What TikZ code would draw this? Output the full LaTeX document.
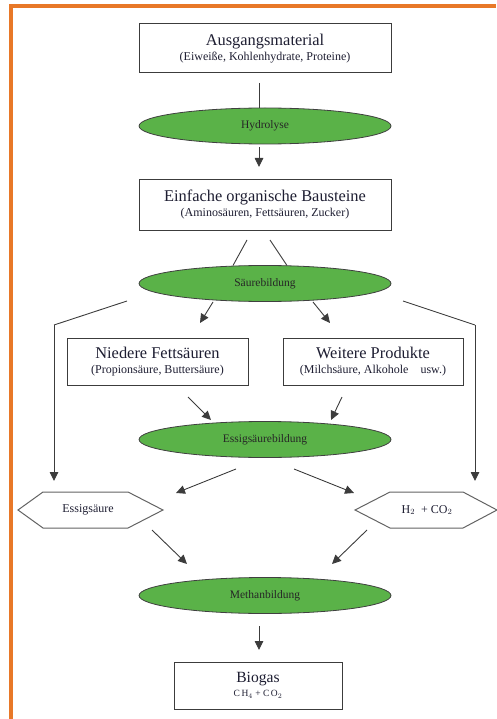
\documentclass[tikz,border=0pt]{standalone}
\usepackage{fontspec}
\setmainfont{Liberation Serif}
\usetikzlibrary{shapes.geometric,arrows.meta}
\definecolor{frameorange}{RGB}{232,120,40}
\definecolor{leafgreen}{RGB}{90,178,72}
\definecolor{ink}{RGB}{30,30,50}
\definecolor{linegray}{RGB}{60,60,60}
\newcommand\ftitle{\fontsize{16.4}{17}\selectfont}
\newcommand\fsubt{\fontsize{12}{13}\selectfont}
\newcommand\fell{\fontsize{11.5}{13}\selectfont}
\tikzset{
  x=1pt, y=-1pt,
  boxnode/.style={draw=linegray, line width=1pt, fill=white, inner sep=0pt, text=ink, align=center},
  procnode/.style={ellipse, draw=black!75, line width=0.8pt, fill=leafgreen, minimum width=252pt, minimum height=36pt, inner sep=0pt, font=\fell, text=black!85},
  hexlabel/.style={inner sep=0pt, font=\fsubt, text=ink},
  hexshape/.style={draw=linegray!80, line width=1pt},
  conn/.style={draw=linegray, line width=0.9pt},
  arr/.style={conn, -{Triangle[length=9pt,width=8.5pt]}}
}
\begin{document}
\begin{tikzpicture}
\useasboundingbox (0,0) rectangle (496,719);
% frame
\fill[frameorange] (9,4) rectangle (496,8);
\fill[frameorange] (9,4) rectangle (13,719);

% nodes
\node[boxnode, minimum width=252pt, minimum height=49pt] (src) at (265,48.5)
  {{\ftitle Ausgangsmaterial}\\[3pt]{\fsubt (Eiweiße, Kohlenhydrate, Proteine)}};
\node[procnode] (hyd) at (265,126) {Hydrolyse};
\node[boxnode, minimum width=252pt, minimum height=50pt] (bau) at (265,205)
  {{\ftitle Einfache organische Bausteine}\\[3pt]{\fsubt (Aminosäuren, Fettsäuren, Zucker)}};
\node[procnode] (sae) at (265,283.5) {Säurebildung};
\node[boxnode, minimum width=181pt, minimum height=47pt] (nfs) at (157.5,361.5)
  {{\ftitle Niedere Fettsäuren}\\[3pt]{\fsubt (Propionsäure, Buttersäure)}};
\node[boxnode, minimum width=180pt, minimum height=47pt] (wp) at (373,361.5)
  {{\ftitle Weitere Produkte}\\[3pt]{\fsubt (Milchsäure, Alkohole\quad usw.)}};
\node[procnode] (ess) at (265,439.5) {Essigsäurebildung};
\node[hexlabel] (es) at (88,510) {Essigsäure};
\node[hexlabel] (hc) at (427,510) {H$_2$\enspace + CO$_2$};
\node[procnode] (meth) at (265,595.5) {Methanbildung};
\node[boxnode, minimum width=168pt, minimum height=47pt] (bio) at (258,685.5)
  {{\fontsize{15.6}{17}\selectfont Biogas}\\[2pt]{\fontsize{9.5}{11}\selectfont C\,H$_4$ + C\,O$_2$}};

% hexagon outlines
\draw[hexshape] (18,510) -- (43,492) -- (128,492) -- (163,510) -- (128,528) -- (43,528) -- cycle;
\draw[hexshape] (355,510) -- (390,492) -- (463,492) -- (497,510) -- (463,528) -- (390,528) -- cycle;

% connector end points
\coordinate (a1) at (259,83);
\coordinate (a2s) at (259,147);
\coordinate (a2e) at (259,167);
\coordinate (b1s) at (247,240); \coordinate (b1e) at (233,265.5);
\coordinate (b2s) at (270,240); \coordinate (b2e) at (287,265.5);
\coordinate (c1s) at (213,302); \coordinate (c1e) at (200,323);
\coordinate (c2s) at (313,302); \coordinate (c2e) at (330,323);
\coordinate (l1) at (127,301); \coordinate (l2) at (54,325); \coordinate (l3) at (54,481);
\coordinate (r1) at (403,301); \coordinate (r2) at (475,325); \coordinate (r3) at (475,481);
\coordinate (d1s) at (188,397); \coordinate (d1e) at (211,420);
\coordinate (d2s) at (342,397); \coordinate (d2e) at (331,420);
\coordinate (e1s) at (236,469); \coordinate (e1e) at (176,493);
\coordinate (e2s) at (294,469); \coordinate (e2e) at (354,493);
\coordinate (f1s) at (152,530); \coordinate (f1e) at (187,564);
\coordinate (f2s) at (367,530); \coordinate (f2e) at (332,564);
\coordinate (g1s) at (259,626); \coordinate (g1e) at (259,650);

% connectors
\draw[conn] (a1) -- (a1 |- hyd.north);
\draw[arr] (a2s) -- (a2e);
\draw[conn] (b1s) -- (b1e);
\draw[conn] (b2s) -- (b2e);
\draw[arr] (c1s) -- (c1e);
\draw[arr] (c2s) -- (c2e);
\draw[conn] (l1) -- (l2);
\draw[arr] (l2) -- (l3);
\draw[conn] (r1) -- (r2);
\draw[arr] (r2) -- (r3);
\draw[arr] (d1s) -- (d1e);
\draw[arr] (d2s) -- (d2e);
\draw[arr] (e1s) -- (e1e);
\draw[arr] (e2s) -- (e2e);
\draw[arr] (f1s) -- (f1e);
\draw[arr] (f2s) -- (f2e);
\draw[arr] (g1s) -- (g1e);
\end{tikzpicture}
\end{document}
